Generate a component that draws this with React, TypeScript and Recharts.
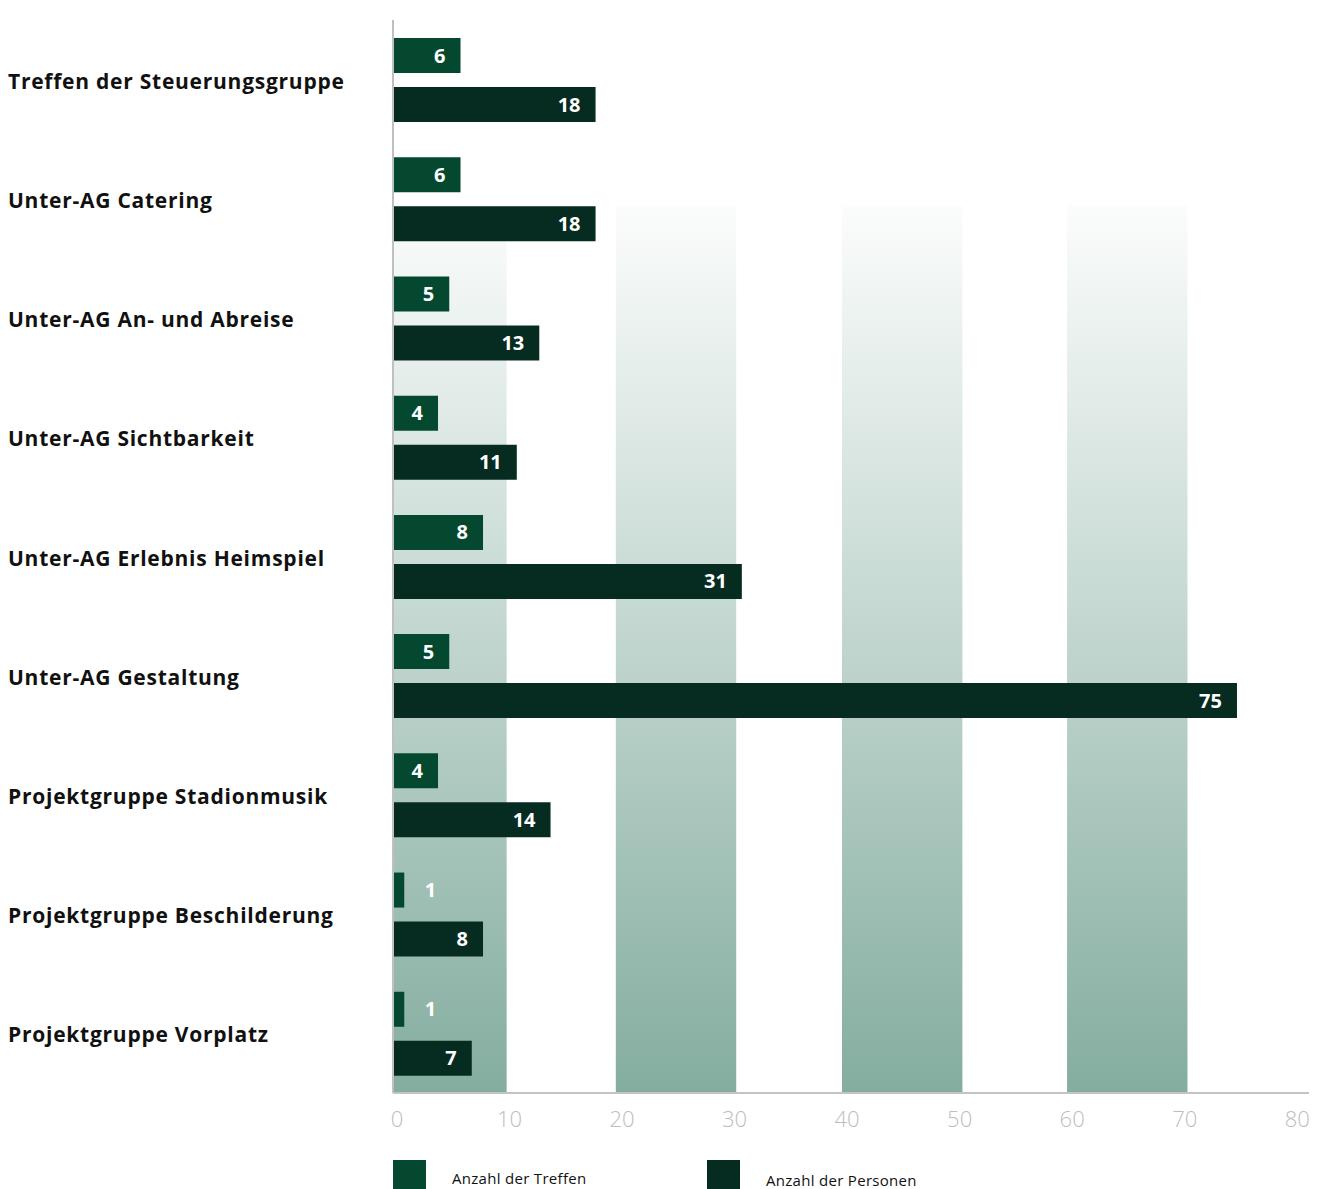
import { BarChart, Bar, XAxis, YAxis, ReferenceArea, LabelList } from 'recharts'

const categories = [
  'Treffen der Steuerungsgruppe',
  'Unter-AG Catering',
  'Unter-AG An- und Abreise',
  'Unter-AG Sichtbarkeit',
  'Unter-AG Erlebnis Heimspiel',
  'Unter-AG Gestaltung',
  'Projektgruppe Stadionmusik',
  'Projektgruppe Beschilderung',
  'Projektgruppe Vorplatz',
]
const treffen = [6, 6, 5, 4, 8, 5, 4, 1, 1]
const personen = [18, 18, 13, 11, 31, 75, 14, 8, 7]
const xTicks = [0, 10, 20, 30, 40, 50, 60, 70, 80]
// background stripes (a bit wider than 10 units)
const bands = [[0, 10.1], [19.8, 30.5], [39.9, 50.6], [59.9, 70.6]]
const seriesNames = ['Anzahl der Treffen', 'Anzahl der Personen']
const colors = ['#04482f', '#062c22']

const data = categories.map((name, i) => ({ name, treffen: treffen[i], personen: personen[i] }))

const FONT = '"Open Sans", Lato, sans-serif'

function CategoryTick(props: any) {
  const { y, payload } = props
  return (
    <text x={0} y={y} dy={9} textAnchor="start" fontFamily={FONT} fontWeight={700} fontSize={21} letterSpacing={0.75} fill="#111">
      {payload.value}
    </text>
  )
}

function BarValue(props: any) {
  const { x, y, width, height, value } = props
  const small = width < 40
  return (
    <text
      x={small ? x + width + 32 : x + width - 15}
      y={y + height / 2}
      dy={7}
      textAnchor="end"
      fontFamily={FONT}
      fontWeight={700}
      fontSize={20}
      fill="#fff"
    >
      {value}
    </text>
  )
}

export default function App() {
  return (
    <div style={{ position: 'relative', width: 1301, height: 1181, overflow: 'hidden' }}>
      <style>{'html{overflow:hidden}'}</style>
      <BarChart
        width={1301}
        height={1150}
        data={data}
        layout="vertical"
        margin={{ top: 12, right: 0, bottom: 25, left: 0 }}
        barSize={35}
        barGap={14}
      >
        <defs>
          <linearGradient id="bandGrad" x1="0" y1="0" x2="0" y2="1">
            <stop offset="0%" stopColor="#84ad9f" stopOpacity={0} />
            <stop offset="17.2%" stopColor="#84ad9f" stopOpacity={0} />
            <stop offset="17.3%" stopColor="#84ad9f" stopOpacity={0.03} />
            <stop offset="100%" stopColor="#84ad9f" stopOpacity={1} />
          </linearGradient>
        </defs>
        {bands.map(([a, b]) => (
          <ReferenceArea key={a} x1={a} x2={b} fill="url(#bandGrad)" fillOpacity={1} stroke="none" ifOverflow="visible" />
        ))}
        <XAxis
          type="number"
          domain={[0, 81.4]}
          ticks={xTicks}
          allowDataOverflow
          height={40}
          tickLine={false}
          axisLine={{ stroke: '#c4c4c4', strokeWidth: 2 }}
          tick={{ fill: '#bdbdbd', fontSize: 22, fontFamily: FONT, fontWeight: 300, dx: 4 }}
          tickMargin={12}
        />
        <YAxis
          type="category"
          dataKey="name"
          width={385}
          tickLine={false}
          axisLine={{ stroke: '#c0c0c0', strokeWidth: 2 }}
          tick={<CategoryTick />}
          interval={0}
        />
        <Bar dataKey="treffen" name={seriesNames[0]} fill={colors[0]} isAnimationActive={false}>
          <LabelList dataKey="treffen" content={<BarValue />} />
        </Bar>
        <Bar dataKey="personen" name={seriesNames[1]} fill={colors[1]} isAnimationActive={false}>
          <LabelList dataKey="personen" content={<BarValue />} />
        </Bar>
      </BarChart>
      <div style={{ position: 'absolute', left: 385, top: 1152, display: 'flex', fontFamily: FONT, fontSize: 15, letterSpacing: 0.3, color: '#111', lineHeight: '17px' }}>
        {seriesNames.map((n, i) => (
          <div key={n} style={{ display: 'flex', alignItems: 'flex-end', width: 314, marginTop: i === 1 ? -2 : 0 }}>
            <div style={{ width: 33, height: 35, background: colors[i], marginRight: 26 }} />
            <span style={{ marginBottom: i === 1 ? 6 : 8 }}>{n}</span>
          </div>
        ))}
      </div>
    </div>
  )
}
